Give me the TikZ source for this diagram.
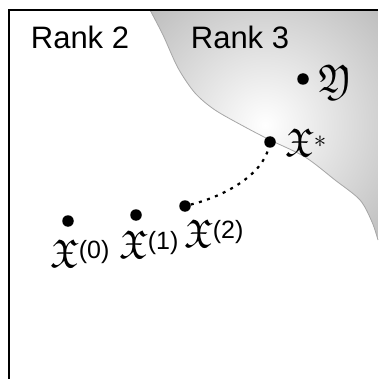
\documentclass[tikz,border=0pt]{standalone}
\usepackage{amsmath}
\usepackage{fontspec}
\setmainfont{Liberation Sans}
\usepackage{amssymb}
\DeclareFontFamily{U}{euf}{}
\DeclareFontShape{U}{euf}{m}{n}{<-6> eufm5 <6-8> eufm7 <8-> eufm10}{}
\newcommand\supsz{\fontsize{25}{30}\selectfont}
\begin{document}
\begin{tikzpicture}[x=1pt,y=-1pt,
    pt/.style={circle,fill=black,inner sep=0pt,minimum size=11.5pt},
    lbl/.style={inner sep=0pt,font=\fontsize{31}{37}\selectfont},
    mlbl/.style={inner sep=0pt,font=\fontsize{40}{48}\selectfont}]
    \useasboundingbox (0,0) rectangle (378,379);
    % rank 3 region
    \begin{scope}
        \clip plot[smooth] coordinates {(150,10) (163,35) (178,68) (195,93) (215,110) (245,127) (270,140) (305,157) (335,180) (360,200) (372,222) (378,240)} -- (378,10) -- cycle;
        \shade[inner color=white,outer color=black!27] (265,125) circle (172);
    \end{scope}
    \draw[black!35,line width=0.8pt] plot[smooth] coordinates {(150,10) (163,35) (178,68) (195,93) (215,110) (245,127) (270,140) (305,157) (335,180) (360,200) (372,222) (378,240)};
    \draw[line width=2pt] (9,379) -- (9,10) -- (378,10);
    \node[lbl] (r2) at (80,37) {Rank 2};
    \node[lbl] (r3) at (240,37) {Rank 3};
    % iterates
    \node[pt] (x0) at (68,221) {};
    \node[pt] (x1) at (136,215) {};
    \node[pt] (x2) at (185,206) {};
    \node[pt] (xs) at (270,142) {};
    \node[pt] (y) at (303,79) {};
    \node[mlbl] (lx0) at (80,254) {$\mathfrak{X}^{\text{\supsz(0)}}$};
    \node[mlbl] (lx1) at (149,245) {$\mathfrak{X}^{\text{\supsz(1)}}$};
    \node[mlbl] (lx2) at (214,234) {$\mathfrak{X}^{\text{\supsz(2)}}$};
    \node[mlbl] (lxs) at (306,143) {$\mathfrak{X}^{*}$};
    \node[mlbl] (ly) at (335,82) {$\mathfrak{Y}$};
    \draw[line width=2.2pt,dash pattern=on 3pt off 5.5pt] (x2) .. controls (225,196) and (262,175) .. (xs);
\end{tikzpicture}
\end{document}
